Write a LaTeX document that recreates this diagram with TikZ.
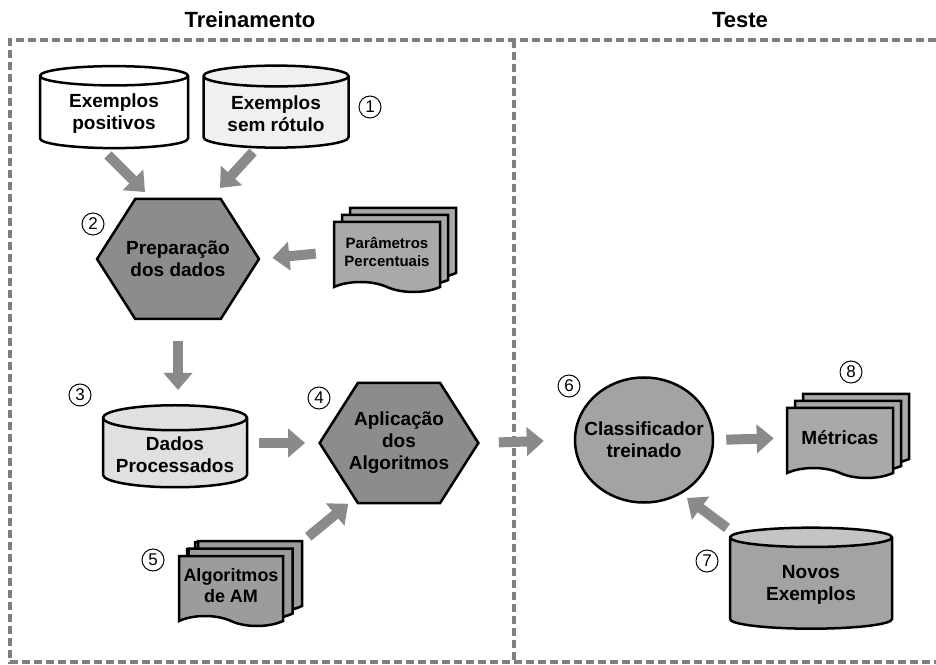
\documentclass[tikz,border=0pt]{standalone}
\usepackage{fontspec}
\setmainfont{Liberation Sans}
\usetikzlibrary{arrows.meta,shapes.geometric,shapes.symbols,shadows}
\definecolor{framegray}{HTML}{808080}
\definecolor{arrowgray}{HTML}{8A8A8A}
\definecolor{hexgray}{HTML}{8C8C8C}
\definecolor{midgray}{HTML}{A3A3A3}
\definecolor{docgray}{HTML}{A9A9A9}
\begin{document}
\begin{tikzpicture}[
x=1pt, y=1pt,
label font/.style={font=\bfseries\fontsize{19}{22}\selectfont},
db/.style={cylinder,
           shape border rotate=90,
           aspect=0.2,
           draw,
           line width=2.5pt,
           cylinder uses custom fill,
           align=center,
           label font},
hexa/.style={signal,
             signal to=west and east,
             signal pointer angle=115,
             draw,
             fill=hexgray,
             line width=2.5pt,
             minimum height=120pt,
             inner xsep=-9pt,
             inner ysep=0pt,
             align=center,
             label font},
docs/.style={tape,
             tape bend top=none,
             tape bend bottom=out and in,
             tape bend height=10pt,
             draw,
             fill=docgray,
             line width=2.5pt,
             minimum width=106pt,
             minimum height=70pt,
             inner sep=0pt,
             align=center,
             double copy shadow={shadow xshift=8pt, shadow yshift=7pt,
                                 fill=docgray, draw=black, line width=2.5pt},
             label font},
flow/.style={-{Triangle[length=17pt,width=28pt]},
             draw=arrowgray,
             line width=10pt},
num/.style={circle, draw, line width=1pt, minimum size=22pt, inner sep=0pt,
            font=\fontsize{17}{17}\selectfont},
title/.style={font=\bfseries\fontsize{22}{26}\selectfont}]
\useasboundingbox (0,0) rectangle (936,664);
%frame
  \node[title] (treino) at (250,644) {Treinamento};
  \node[title] (teste) at (740,644) {Teste};
  \draw[framegray, line width=3.5pt, dash pattern=on 8pt off 4pt]
    (936,624) -- (10,624) -- (10,2) -- (936,2)
    (514,624) -- (514,2);
%1
  \node[db, minimum width=148pt, minimum height=82pt,
        cylinder body fill=white, cylinder end fill=white] (pos) at (114,550) {Exemplos\\positivos};
  \node[db, minimum width=145pt, minimum height=82pt,
        cylinder body fill=black!6, cylinder end fill=black!6] (sem) at (276,550) {Exemplos\\sem rótulo};
  \node[num] (n1) at (370,557) {1};
%2
  \node[hexa] (prep) at (178,405) {Preparação\\dos dados};
  \node[num] (n2) at (93,440) {2};
  \node[docs, font=\bfseries\fontsize{15}{18}\selectfont] (param) at (387,412) {Parâmetros\\Percentuais};
%3
  \node[db, minimum width=144pt, minimum height=82pt,
        cylinder body fill=black!12, cylinder end fill=black!12] (dados) at (175,209) {Dados\\Processados};
  \node[num] (n3) at (80,269) {3};
%4
  \node[hexa] (aplic) at (399,221) {Aplicação\\dos\\Algoritmos};
  \node[num] (n4) at (319,266) {4};
%5
  \node[docs, minimum width=104pt, fill=black!39,
        double copy shadow={shadow xshift=9.5pt, shadow yshift=7.5pt,
                            fill=black!39, draw=black, line width=2.5pt},
        font=\bfseries\fontsize{18}{21}\selectfont] (alg) at (231,78) {Algoritmos\\de AM};
  \node[num] (n5) at (153,104) {5};
%6
  \node[ellipse, draw, fill=midgray, line width=2.5pt, minimum width=138pt,
        minimum height=125pt, inner xsep=-12pt, inner ysep=0pt, align=center, label font] (class) at (644,224) {Classificador\\treinado};
  \node[num] (n6) at (569,278) {6};
%7
  \node[db, minimum width=162pt, minimum height=101pt,
        cylinder body fill=midgray, cylinder end fill=black!23] (novos) at (811,79) {Novos\\Exemplos};
  \node[num] (n7) at (707,103) {7};
%8
  \node[docs] (met) at (840,226) {Métricas};
  \node[num] (n8) at (851,292) {8};
%paths
  \draw[flow] ([xshift=-6pt,yshift=-41pt]pos.center) -- ++(37,-37);
  \draw[flow] ([xshift=-23pt,yshift=-38pt]sem.center) -- ++(-33,-36);
  \draw[flow, shorten <=17pt, shorten >=12pt] (param.west) -- (prep.east);
  \draw[flow, shorten <=21pt, shorten >=14pt] (prep.south) -- (prep.south |- dados.north);
  \draw[flow, shorten <=11pt, shorten >=13pt] (dados.east |- aplic.west) -- (aplic.west);
  \draw[flow] ([xshift=24pt,yshift=18pt]alg.north east) -- ++(40,33);
  \draw[flow, shorten <=19pt, shorten >=30pt] (aplic.east) -- (class.west);
  \draw[flow, shorten <=12pt, shorten >=12pt] (class.east) -- (met.west);
  \draw[flow] ([xshift=-84pt,yshift=57pt]novos.center) -- ++(-40,30);
\end{tikzpicture}
\end{document}
